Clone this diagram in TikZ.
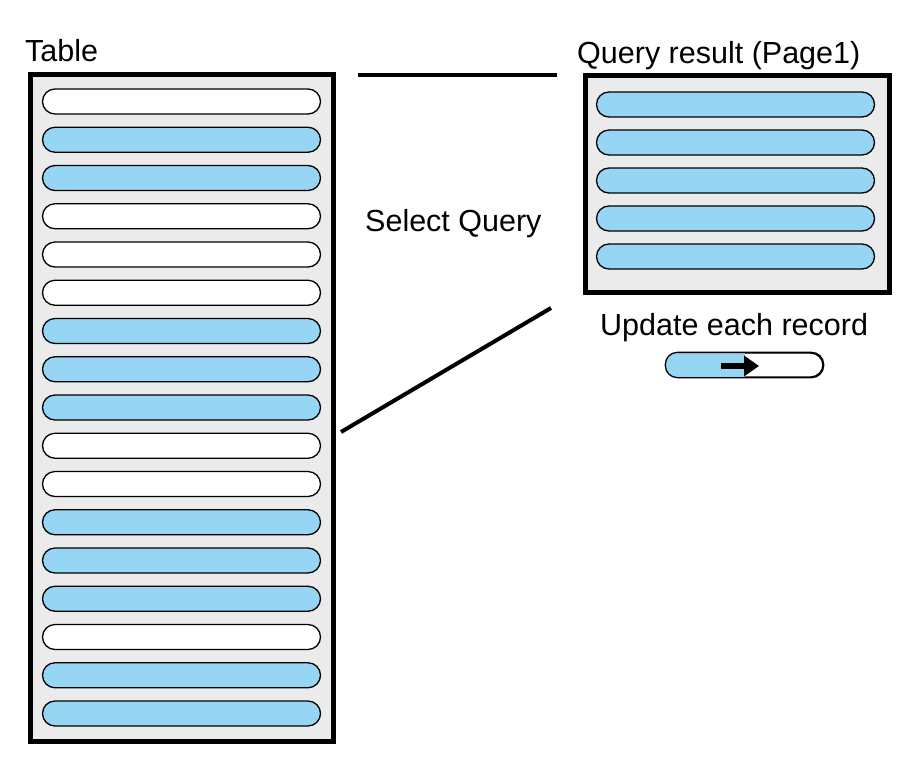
\documentclass[tikz,border=0pt]{standalone}
\usepackage{fontspec}
\setmainfont{Liberation Sans}
\usetikzlibrary{arrows.meta}
\definecolor{recblue}{HTML}{97D5F5}
\definecolor{boxgray}{HTML}{EBEBEB}
\tikzset{
  container/.style={draw=black, line width=5pt, fill=boxgray},
  rec/.style={draw=black, line width=1.3pt, rounded corners=12.5pt, minimum width=278pt, minimum height=25pt, inner sep=0pt},
  recb/.style={rec, fill=recblue},
  recw/.style={rec, fill=white},
  lbl/.style={font=\fontsize{30.5}{34}\selectfont, inner sep=0pt, anchor=base west},
  conn/.style={line width=4pt},
}
\begin{document}
\begin{tikzpicture}[x=1pt,y=-1pt]
\useasboundingbox (0,0) rectangle (915,764);
% containers
\draw[container] (30,74.5) rectangle (333,741);
\draw[container] (585,75.5) rectangle (889,292);
% table rows
\foreach \i/\s in {1/recw,2/recb,3/recb,4/recw,5/recw,6/recw,7/recb,8/recb,9/recb,10/recw,11/recw,12/recb,13/recb,14/recb,15/recw,16/recb,17/recb}{
  \node[\s] (r\i) at (181.5,{101.5+38.25*(\i-1)}) {};
}
% query rows
\foreach \i in {1,...,5}{
  \node[recb] (q\i) at (735.5,{104.5+38*(\i-1)}) {};
}
% labels
\node[lbl] (ttable) at (25,61) {Table};
\node[lbl] (tquery) at (577,63) {Query result (Page1)};
\node[lbl] (tselect) at (365,231) {Select Query};
\node[lbl] (tupdate) at (600,335) {Update each record};
% connectors
\coordinate (a1) at (358,75);
\coordinate (a2) at (557,75);
\coordinate (b1) at (341,432);
\coordinate (b2) at (551,308);
\draw[conn] (a1) -- (a2);
\draw[conn] (b1) -- (b2);
% update record
\node[rec, minimum width=157pt, minimum height=24pt, fill=white] (upd) at (744.5,365) {};
\begin{scope}
  \clip[rounded corners=12pt] (upd.south west) rectangle (upd.north east);
  \fill[recblue] (upd.south west) rectangle (745,353);
\end{scope}
\draw[line width=1.3pt, rounded corners=12pt] (upd.south west) rectangle (upd.north east);
\coordinate (arrA) at (721,366);
\coordinate (arrB) at (759,366);
\draw[line width=6pt, -{Triangle[length=15pt,width=20pt]}] (arrA) -- (arrB);
\end{tikzpicture}
\end{document}
